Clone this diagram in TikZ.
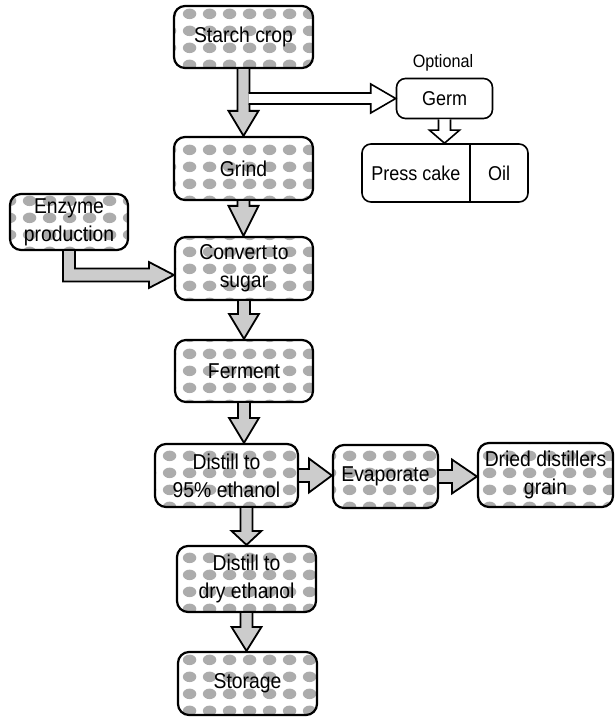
\documentclass[tikz,border=0pt]{standalone}
\usepackage{fontspec}
\setmainfont[FakeStretch=0.9]{Liberation Sans}
\usetikzlibrary{patterns,calc}
\pgfdeclarepatternformonly{blobs}{\pgfqpoint{0pt}{0pt}}{\pgfqpoint{20pt}{17pt}}{\pgfqpoint{20pt}{17pt}}{%
  \pgfpathellipse{\pgfqpoint{10pt}{8.5pt}}{\pgfqpoint{7pt}{0pt}}{\pgfqpoint{0pt}{5.5pt}}\pgfusepath{fill}}
\tikzset{
  proc/.style={draw=black, line width=2.2pt, rounded corners=11pt, pattern=blobs, pattern color=gray!65,
    inner sep=0pt, align=center, font=\fontsize{21.5}{28}\selectfont},
  plain/.style={draw=black, line width=1.6pt, rounded corners=9pt, fill=white,
    inner sep=0pt, align=center, font=\fontsize{20}{26}\selectfont},
  blk/.style={draw=black, line width=1.8pt, fill=gray!40},
  wblk/.style={draw=black, line width=1.6pt, fill=white},
}
% vertical block arrow: [style]{from}{to}{x reference node}{head length}
\newcommand\vblk[5][blk]{%
  \filldraw[#1] let \p1=(#4.center), \p2=(#2.south), \p3=(#3.north) in
  (\x1-6pt,\y2) -- (\x1-6pt,\y3+#5pt) -- (\x1-15pt,\y3+#5pt) -- (\x1,\y3)
  -- (\x1+15pt,\y3+#5pt) -- (\x1+6pt,\y3+#5pt) -- (\x1+6pt,\y2);}
% horizontal block arrow: {from}{to}{head length}
\newcommand\hblk[3]{%
  \filldraw[blk] let \p1=(#1.east), \p2=(#2.west) in
  (\x1,\y1+6.5pt) -- (\x2-#3pt,\y1+6.5pt) -- (\x2-#3pt,\y1+17pt) -- (\x2,\y1)
  -- (\x2-#3pt,\y1-17pt) -- (\x2-#3pt,\y1-6.5pt) -- (\x1,\y1-6.5pt);}
\begin{document}
\begin{tikzpicture}[x=1pt,y=-1pt]
\useasboundingbox (0,0) rectangle (614,719);

\node[proc, minimum width=139pt, minimum height=62pt] (starch) at (243.5,37) {Starch crop};
\node[proc, minimum width=139pt, minimum height=63pt] (grind) at (243.5,168.5) {Grind};
\node[proc, minimum width=118pt, minimum height=56pt] (enzyme) at (69,222) {Enzyme\\production};
\node[proc, minimum width=138pt, minimum height=63pt] (convert) at (244,268.5) {Convert to\\sugar};
\node[proc, minimum width=138pt, minimum height=62pt] (ferment) at (244,371) {Ferment};
\node[proc, minimum width=143pt, minimum height=63pt] (d95) at (226.5,475.5) {Distill to\\95\% ethanol};
\node[proc, minimum width=105pt, minimum height=63pt] (evap) at (385.5,476.5) {Evaporate};
\node[proc, minimum width=135pt, minimum height=64pt] (ddg) at (545.5,475) {Dried distillers\\grain};
\node[proc, minimum width=139pt, minimum height=66pt] (dry) at (246.5,579) {Distill to\\dry ethanol};
\node[proc, minimum width=139pt, minimum height=63pt] (storage) at (247.5,683.5) {Storage};

\node[plain, minimum width=96pt, minimum height=40pt] (germ) at (444.5,98.5) {Germ};
\node[plain, minimum width=166pt, minimum height=58pt] (pc) at (445,173) {};
\node[font=\fontsize{20}{24}\selectfont, inner sep=0pt] (press) at (416,173) {Press cake};
\node[font=\fontsize{20}{24}\selectfont, inner sep=0pt] (oil) at (499,173) {Oil};
\coordinate (divx) at (470,0);
\draw[line width=1.4pt] (pc.north -| divx) -- (pc.south -| divx);
\node[font=\fontsize{18}{22}\selectfont, inner sep=0pt] (optional) at (443,63) {Optional};

% main column arrows
\vblk{starch}{grind}{starch}{25}
% branch to germ
\filldraw[wblk] let \p1=(starch.south), \p2=(germ.west) in
  (\x1+5pt,\y2+5.5pt) -- (\x2-25pt,\y2+5.5pt) -- (\x2-25pt,\y2+14.5pt) -- (\x2,\y2)
  -- (\x2-25pt,\y2-14.5pt) -- (\x2-25pt,\y2-5.5pt) -- (\x1+5pt,\y2-5.5pt);
\vblk{grind}{convert}{grind}{30}
\vblk{convert}{ferment}{convert}{25}
\vblk{ferment}{d95}{ferment}{25}
\vblk{d95}{dry}{dry}{14}
\vblk{dry}{storage}{dry}{24}
\vblk[wblk]{germ}{pc}{germ}{13}

% enzyme bent arrow
\coordinate (ebend) at (71,275);
\filldraw[blk] let \p1=(enzyme.south), \p2=(convert.west), \p3=(ebend) in
  (\x1-6pt,\y1) -- (\x1-6pt,\y3-6.5pt) -- (\x2-25pt,\y3-6.5pt) -- (\x2-25pt,\y3-13pt)
  -- (\x2,\y3) -- (\x2-25pt,\y3+13pt) -- (\x2-25pt,\y3+6.5pt) -- (\x1+6pt,\y3+6.5pt) -- (\x1+6pt,\y1);

% horizontal arrows
\hblk{d95}{evap}{23}
\hblk{evap}{ddg}{25}
\end{tikzpicture}
\end{document}
